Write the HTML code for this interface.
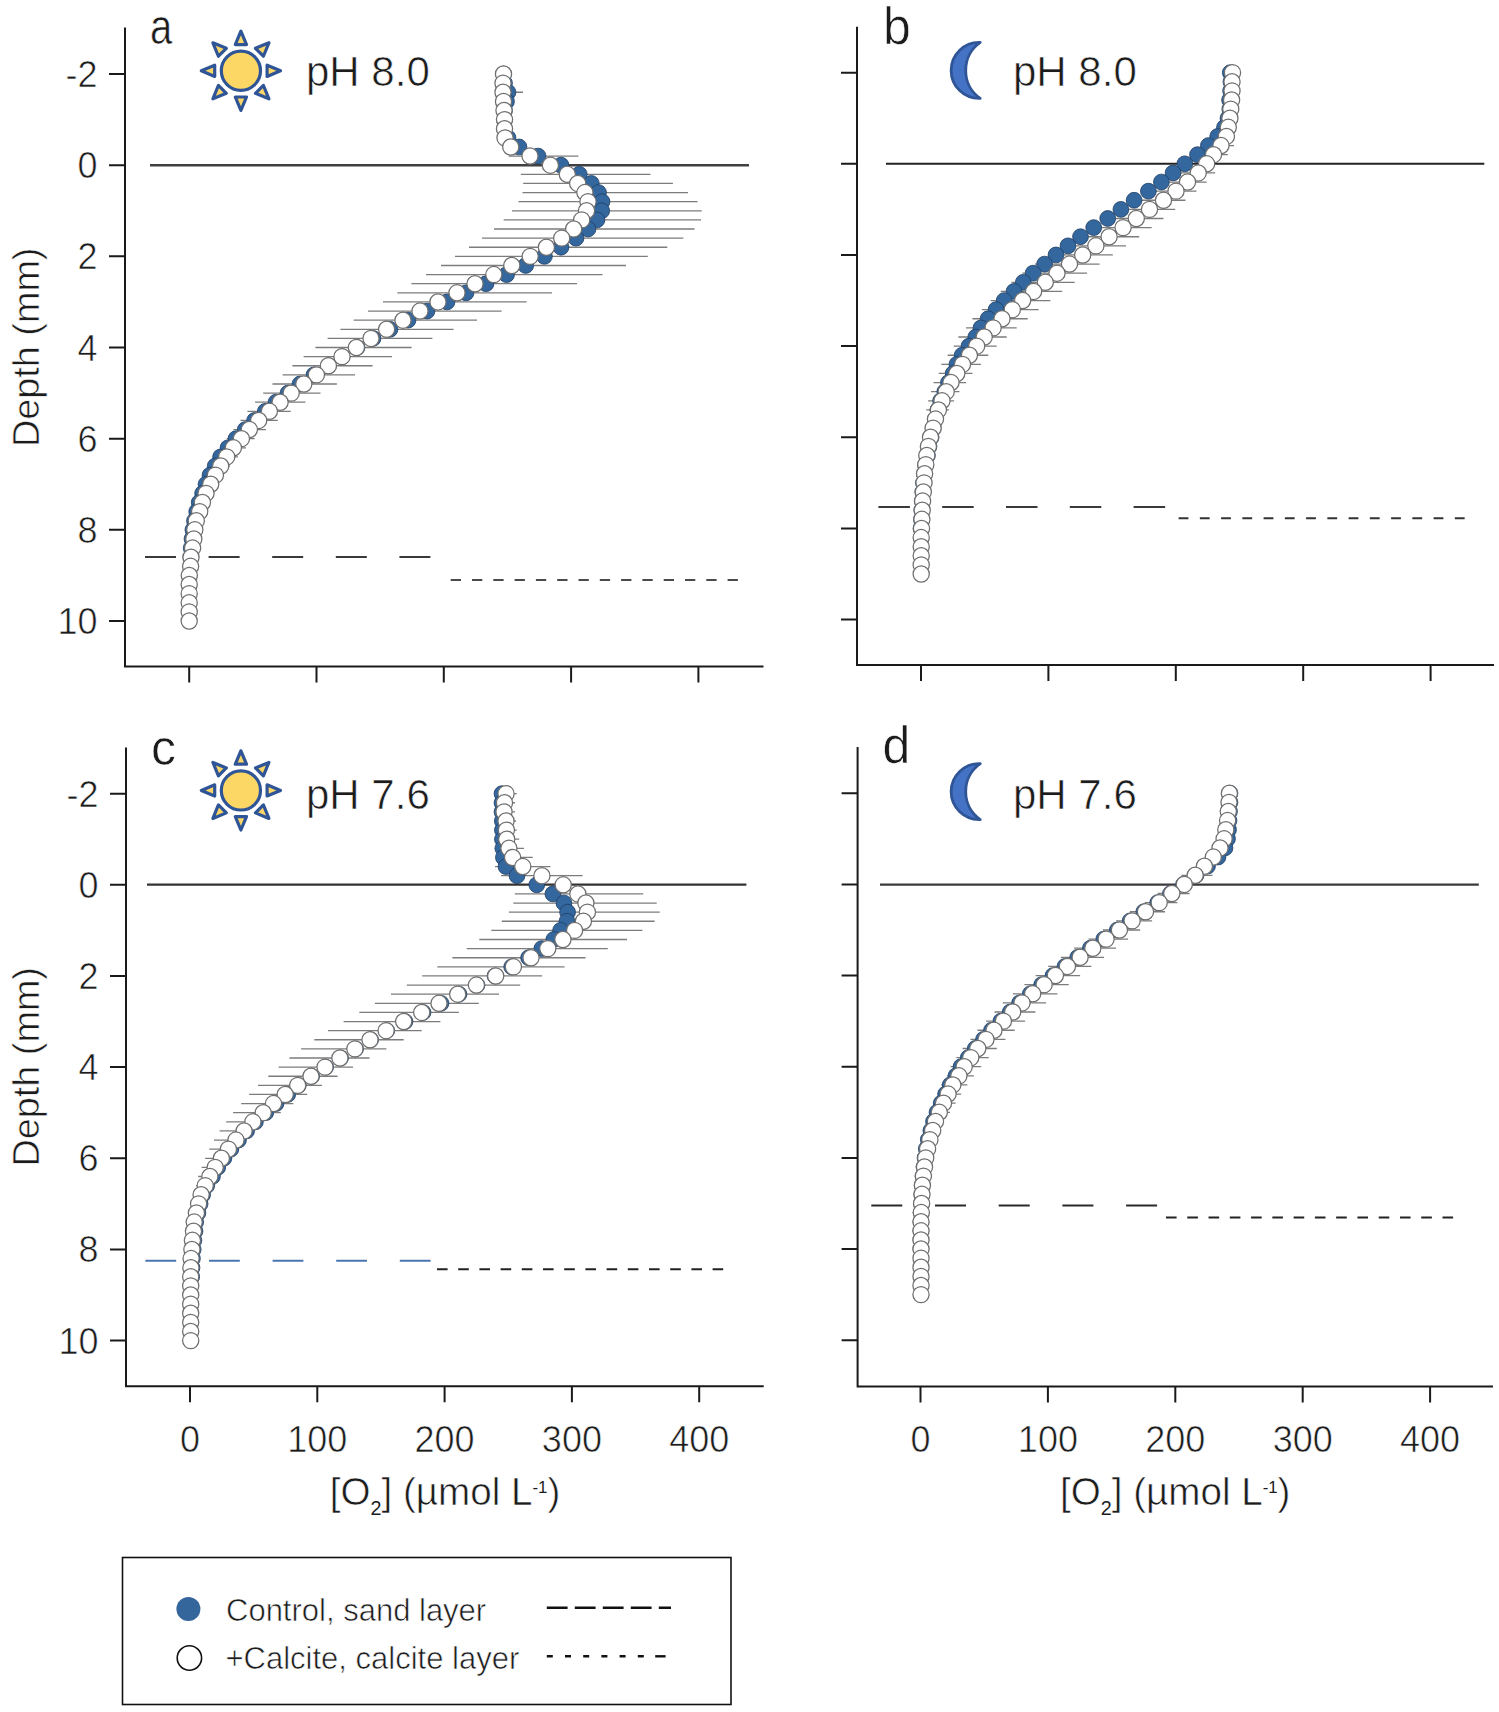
<!DOCTYPE html><html><head><meta charset="utf-8"><style>html,body{margin:0;padding:0;background:#fff}svg{display:block}</style></head><body>
<svg width="1499" height="1712" viewBox="0 0 1499 1712">
<rect width="1499" height="1712" fill="#fff"/>
<path d="M125 27.5V666.6H763.5" stroke="#1a1a1a" stroke-width="2" fill="none"/>
<path d="M109 74.04H125M109 165.2H125M109 256.36H125M109 347.52H125M109 438.68H125M109 529.84H125M109 621H125M189.2 666.6V682.6M316.5 666.6V682.6M443.8 666.6V682.6M571.1 666.6V682.6M698.4 666.6V682.6" stroke="#1a1a1a" stroke-width="2" fill="none"/>
<text x="97.5" y="87.04" text-anchor="end" font-size="36" font-family="Liberation Sans, sans-serif" fill="#1c1c1c" stroke="#fff" stroke-width="0.6">-2</text>
<text x="97.5" y="178.2" text-anchor="end" font-size="36" font-family="Liberation Sans, sans-serif" fill="#1c1c1c" stroke="#fff" stroke-width="0.6">0</text>
<text x="97.5" y="269.36" text-anchor="end" font-size="36" font-family="Liberation Sans, sans-serif" fill="#1c1c1c" stroke="#fff" stroke-width="0.6">2</text>
<text x="97.5" y="360.52" text-anchor="end" font-size="36" font-family="Liberation Sans, sans-serif" fill="#1c1c1c" stroke="#fff" stroke-width="0.6">4</text>
<text x="97.5" y="451.68" text-anchor="end" font-size="36" font-family="Liberation Sans, sans-serif" fill="#1c1c1c" stroke="#fff" stroke-width="0.6">6</text>
<text x="97.5" y="542.84" text-anchor="end" font-size="36" font-family="Liberation Sans, sans-serif" fill="#1c1c1c" stroke="#fff" stroke-width="0.6">8</text>
<text x="97.5" y="634" text-anchor="end" font-size="36" font-family="Liberation Sans, sans-serif" fill="#1c1c1c" stroke="#fff" stroke-width="0.6">10</text>
<path d="M500 92.27H523M508.8 156.08H578.5M520.8 174.32H650.5M523.2 183.43H672.9M522.5 192.55H688M518.4 201.66H697.6M512 210.78H701.7M503.7 219.9H701M494 229.01H694.5M482 238.13H683.3M469 247.24H667.3M455 256.36H647.8M441 265.48H626M426 274.59H602.5M411.4 283.71H577M397.4 292.82H552M383 301.94H526.6M368 311.06H501.6M353.6 320.17H477M340.4 329.29H453.6M327.6 338.4H432.4M315.4 347.52H411.6M303.6 356.64H392M292.4 365.75H372.6M282.6 374.87H355M272.5 383.98H336.9M263.2 393.1H320.5M255.1 402.22H305.4M247.4 411.33H290.8M240.5 420.45H277.8M233.4 429.56H266M226.7 438.68H254.7M221 447.8H246M216 456.91H238M212 466.03H230" stroke="#7c7c7c" stroke-width="1.3" fill="none"/>
<line x1="150" y1="165.3" x2="749" y2="165.3" stroke="#404040" stroke-width="2.4"/>
<circle cx="503.5" cy="74.04" r="7.9" fill="#33679e" stroke="#1f3d63" stroke-width="0.8"/><circle cx="504.5" cy="83.16" r="7.9" fill="#33679e" stroke="#1f3d63" stroke-width="0.8"/><circle cx="508" cy="92.27" r="7.9" fill="#33679e" stroke="#1f3d63" stroke-width="0.8"/><circle cx="506.5" cy="101.39" r="7.9" fill="#33679e" stroke="#1f3d63" stroke-width="0.8"/><circle cx="504.5" cy="110.5" r="7.9" fill="#33679e" stroke="#1f3d63" stroke-width="0.8"/><circle cx="504.5" cy="119.62" r="7.9" fill="#33679e" stroke="#1f3d63" stroke-width="0.8"/><circle cx="504.5" cy="128.74" r="7.9" fill="#33679e" stroke="#1f3d63" stroke-width="0.8"/><circle cx="508" cy="137.85" r="7.9" fill="#33679e" stroke="#1f3d63" stroke-width="0.8"/><circle cx="519" cy="146.97" r="7.9" fill="#33679e" stroke="#1f3d63" stroke-width="0.8"/><circle cx="538" cy="156.08" r="7.9" fill="#33679e" stroke="#1f3d63" stroke-width="0.8"/><circle cx="561" cy="165.2" r="7.9" fill="#33679e" stroke="#1f3d63" stroke-width="0.8"/><circle cx="579.3" cy="174.32" r="7.9" fill="#33679e" stroke="#1f3d63" stroke-width="0.8"/><circle cx="591.3" cy="183.43" r="7.9" fill="#33679e" stroke="#1f3d63" stroke-width="0.8"/><circle cx="598.5" cy="192.55" r="7.9" fill="#33679e" stroke="#1f3d63" stroke-width="0.8"/><circle cx="602" cy="201.66" r="7.9" fill="#33679e" stroke="#1f3d63" stroke-width="0.8"/><circle cx="601.7" cy="210.78" r="7.9" fill="#33679e" stroke="#1f3d63" stroke-width="0.8"/><circle cx="596.9" cy="219.9" r="7.9" fill="#33679e" stroke="#1f3d63" stroke-width="0.8"/><circle cx="588" cy="229.01" r="7.9" fill="#33679e" stroke="#1f3d63" stroke-width="0.8"/><circle cx="576" cy="238.13" r="7.9" fill="#33679e" stroke="#1f3d63" stroke-width="0.8"/><circle cx="561" cy="247.24" r="7.9" fill="#33679e" stroke="#1f3d63" stroke-width="0.8"/><circle cx="544.4" cy="256.36" r="7.9" fill="#33679e" stroke="#1f3d63" stroke-width="0.8"/><circle cx="525.7" cy="265.48" r="7.9" fill="#33679e" stroke="#1f3d63" stroke-width="0.8"/><circle cx="506.6" cy="274.59" r="7.9" fill="#33679e" stroke="#1f3d63" stroke-width="0.8"/><circle cx="486" cy="283.71" r="7.9" fill="#33679e" stroke="#1f3d63" stroke-width="0.8"/><circle cx="466" cy="292.82" r="7.9" fill="#33679e" stroke="#1f3d63" stroke-width="0.8"/><circle cx="447" cy="301.94" r="7.9" fill="#33679e" stroke="#1f3d63" stroke-width="0.8"/><circle cx="427" cy="311.06" r="7.9" fill="#33679e" stroke="#1f3d63" stroke-width="0.8"/><circle cx="408" cy="320.17" r="7.9" fill="#33679e" stroke="#1f3d63" stroke-width="0.8"/><circle cx="390" cy="329.29" r="7.9" fill="#33679e" stroke="#1f3d63" stroke-width="0.8"/><circle cx="373" cy="338.4" r="7.9" fill="#33679e" stroke="#1f3d63" stroke-width="0.8"/><circle cx="357" cy="347.52" r="7.9" fill="#33679e" stroke="#1f3d63" stroke-width="0.8"/><circle cx="342" cy="356.64" r="7.9" fill="#33679e" stroke="#1f3d63" stroke-width="0.8"/><circle cx="328.5" cy="365.75" r="7.9" fill="#33679e" stroke="#1f3d63" stroke-width="0.8"/><circle cx="314" cy="374.87" r="7.9" fill="#33679e" stroke="#1f3d63" stroke-width="0.8"/><circle cx="300" cy="383.98" r="7.9" fill="#33679e" stroke="#1f3d63" stroke-width="0.8"/><circle cx="288" cy="393.1" r="7.9" fill="#33679e" stroke="#1f3d63" stroke-width="0.8"/><circle cx="276" cy="402.22" r="7.9" fill="#33679e" stroke="#1f3d63" stroke-width="0.8"/><circle cx="265.3" cy="411.33" r="7.9" fill="#33679e" stroke="#1f3d63" stroke-width="0.8"/><circle cx="254.6" cy="420.45" r="7.9" fill="#33679e" stroke="#1f3d63" stroke-width="0.8"/><circle cx="245.3" cy="429.56" r="7.9" fill="#33679e" stroke="#1f3d63" stroke-width="0.8"/><circle cx="236" cy="438.68" r="7.9" fill="#33679e" stroke="#1f3d63" stroke-width="0.8"/><circle cx="228" cy="447.8" r="7.9" fill="#33679e" stroke="#1f3d63" stroke-width="0.8"/><circle cx="220.6" cy="456.91" r="7.9" fill="#33679e" stroke="#1f3d63" stroke-width="0.8"/><circle cx="215.2" cy="466.03" r="7.9" fill="#33679e" stroke="#1f3d63" stroke-width="0.8"/><circle cx="210" cy="475.14" r="7.9" fill="#33679e" stroke="#1f3d63" stroke-width="0.8"/><circle cx="206" cy="484.26" r="7.9" fill="#33679e" stroke="#1f3d63" stroke-width="0.8"/><circle cx="202.6" cy="493.38" r="7.9" fill="#33679e" stroke="#1f3d63" stroke-width="0.8"/><circle cx="199.2" cy="502.49" r="7.9" fill="#33679e" stroke="#1f3d63" stroke-width="0.8"/><circle cx="196.7" cy="511.61" r="7.9" fill="#33679e" stroke="#1f3d63" stroke-width="0.8"/><circle cx="194.5" cy="520.72" r="7.9" fill="#33679e" stroke="#1f3d63" stroke-width="0.8"/><circle cx="192.9" cy="529.84" r="7.9" fill="#33679e" stroke="#1f3d63" stroke-width="0.8"/><circle cx="192" cy="538.96" r="7.9" fill="#33679e" stroke="#1f3d63" stroke-width="0.8"/><circle cx="191.2" cy="548.07" r="7.9" fill="#33679e" stroke="#1f3d63" stroke-width="0.8"/><circle cx="190.8" cy="557.19" r="7.9" fill="#33679e" stroke="#1f3d63" stroke-width="0.8"/><circle cx="503.5" cy="74.04" r="8.1" fill="#fff" stroke="#6e6e6e" stroke-width="1.25"/><circle cx="503" cy="83.16" r="8.1" fill="#fff" stroke="#6e6e6e" stroke-width="1.25"/><circle cx="503" cy="92.27" r="8.1" fill="#fff" stroke="#6e6e6e" stroke-width="1.25"/><circle cx="503.5" cy="101.39" r="8.1" fill="#fff" stroke="#6e6e6e" stroke-width="1.25"/><circle cx="504" cy="110.5" r="8.1" fill="#fff" stroke="#6e6e6e" stroke-width="1.25"/><circle cx="504.5" cy="119.62" r="8.1" fill="#fff" stroke="#6e6e6e" stroke-width="1.25"/><circle cx="504.5" cy="128.74" r="8.1" fill="#fff" stroke="#6e6e6e" stroke-width="1.25"/><circle cx="505" cy="137.85" r="8.1" fill="#fff" stroke="#6e6e6e" stroke-width="1.25"/><circle cx="510.75" cy="146.97" r="8.1" fill="#fff" stroke="#6e6e6e" stroke-width="1.25"/><circle cx="530" cy="156.08" r="8.1" fill="#fff" stroke="#6e6e6e" stroke-width="1.25"/><circle cx="550.4" cy="165.2" r="8.1" fill="#fff" stroke="#6e6e6e" stroke-width="1.25"/><circle cx="567.3" cy="174.32" r="8.1" fill="#fff" stroke="#6e6e6e" stroke-width="1.25"/><circle cx="577.7" cy="183.43" r="8.1" fill="#fff" stroke="#6e6e6e" stroke-width="1.25"/><circle cx="584.9" cy="192.55" r="8.1" fill="#fff" stroke="#6e6e6e" stroke-width="1.25"/><circle cx="588" cy="201.66" r="8.1" fill="#fff" stroke="#6e6e6e" stroke-width="1.25"/><circle cx="586.5" cy="210.78" r="8.1" fill="#fff" stroke="#6e6e6e" stroke-width="1.25"/><circle cx="581.7" cy="219.9" r="8.1" fill="#fff" stroke="#6e6e6e" stroke-width="1.25"/><circle cx="573.7" cy="229.01" r="8.1" fill="#fff" stroke="#6e6e6e" stroke-width="1.25"/><circle cx="561.7" cy="238.13" r="8.1" fill="#fff" stroke="#6e6e6e" stroke-width="1.25"/><circle cx="546.4" cy="247.24" r="8.1" fill="#fff" stroke="#6e6e6e" stroke-width="1.25"/><circle cx="530.2" cy="256.36" r="8.1" fill="#fff" stroke="#6e6e6e" stroke-width="1.25"/><circle cx="511.8" cy="265.48" r="8.1" fill="#fff" stroke="#6e6e6e" stroke-width="1.25"/><circle cx="493.8" cy="274.59" r="8.1" fill="#fff" stroke="#6e6e6e" stroke-width="1.25"/><circle cx="475" cy="283.71" r="8.1" fill="#fff" stroke="#6e6e6e" stroke-width="1.25"/><circle cx="457" cy="292.82" r="8.1" fill="#fff" stroke="#6e6e6e" stroke-width="1.25"/><circle cx="438" cy="301.94" r="8.1" fill="#fff" stroke="#6e6e6e" stroke-width="1.25"/><circle cx="420" cy="311.06" r="8.1" fill="#fff" stroke="#6e6e6e" stroke-width="1.25"/><circle cx="403" cy="320.17" r="8.1" fill="#fff" stroke="#6e6e6e" stroke-width="1.25"/><circle cx="386.6" cy="329.29" r="8.1" fill="#fff" stroke="#6e6e6e" stroke-width="1.25"/><circle cx="371" cy="338.4" r="8.1" fill="#fff" stroke="#6e6e6e" stroke-width="1.25"/><circle cx="356.4" cy="347.52" r="8.1" fill="#fff" stroke="#6e6e6e" stroke-width="1.25"/><circle cx="342" cy="356.64" r="8.1" fill="#fff" stroke="#6e6e6e" stroke-width="1.25"/><circle cx="328.4" cy="365.75" r="8.1" fill="#fff" stroke="#6e6e6e" stroke-width="1.25"/><circle cx="316.4" cy="374.87" r="8.1" fill="#fff" stroke="#6e6e6e" stroke-width="1.25"/><circle cx="303.8" cy="383.98" r="8.1" fill="#fff" stroke="#6e6e6e" stroke-width="1.25"/><circle cx="291.2" cy="393.1" r="8.1" fill="#fff" stroke="#6e6e6e" stroke-width="1.25"/><circle cx="280.1" cy="402.22" r="8.1" fill="#fff" stroke="#6e6e6e" stroke-width="1.25"/><circle cx="269.4" cy="411.33" r="8.1" fill="#fff" stroke="#6e6e6e" stroke-width="1.25"/><circle cx="258.7" cy="420.45" r="8.1" fill="#fff" stroke="#6e6e6e" stroke-width="1.25"/><circle cx="249.4" cy="429.56" r="8.1" fill="#fff" stroke="#6e6e6e" stroke-width="1.25"/><circle cx="241.4" cy="438.68" r="8.1" fill="#fff" stroke="#6e6e6e" stroke-width="1.25"/><circle cx="233.4" cy="447.8" r="8.1" fill="#fff" stroke="#6e6e6e" stroke-width="1.25"/><circle cx="226.7" cy="456.91" r="8.1" fill="#fff" stroke="#6e6e6e" stroke-width="1.25"/><circle cx="220.7" cy="466.03" r="8.1" fill="#fff" stroke="#6e6e6e" stroke-width="1.25"/><circle cx="215.4" cy="475.14" r="8.1" fill="#fff" stroke="#6e6e6e" stroke-width="1.25"/><circle cx="210.7" cy="484.26" r="8.1" fill="#fff" stroke="#6e6e6e" stroke-width="1.25"/><circle cx="206" cy="493.38" r="8.1" fill="#fff" stroke="#6e6e6e" stroke-width="1.25"/><circle cx="202.4" cy="502.49" r="8.1" fill="#fff" stroke="#6e6e6e" stroke-width="1.25"/><circle cx="199.7" cy="511.61" r="8.1" fill="#fff" stroke="#6e6e6e" stroke-width="1.25"/><circle cx="196.3" cy="520.72" r="8.1" fill="#fff" stroke="#6e6e6e" stroke-width="1.25"/><circle cx="194.8" cy="529.84" r="8.1" fill="#fff" stroke="#6e6e6e" stroke-width="1.25"/><circle cx="193.8" cy="538.96" r="8.1" fill="#fff" stroke="#6e6e6e" stroke-width="1.25"/><circle cx="192.6" cy="548.07" r="8.1" fill="#fff" stroke="#6e6e6e" stroke-width="1.25"/><circle cx="191" cy="557.19" r="8.1" fill="#fff" stroke="#6e6e6e" stroke-width="1.25"/><circle cx="190.6" cy="566.3" r="8.1" fill="#fff" stroke="#6e6e6e" stroke-width="1.25"/><circle cx="189.3" cy="575.42" r="8.1" fill="#fff" stroke="#6e6e6e" stroke-width="1.25"/><circle cx="189.2" cy="584.54" r="8.1" fill="#fff" stroke="#6e6e6e" stroke-width="1.25"/><circle cx="189.2" cy="593.65" r="8.1" fill="#fff" stroke="#6e6e6e" stroke-width="1.25"/><circle cx="189.2" cy="602.77" r="8.1" fill="#fff" stroke="#6e6e6e" stroke-width="1.25"/><circle cx="189.2" cy="611.88" r="8.1" fill="#fff" stroke="#6e6e6e" stroke-width="1.25"/><circle cx="189.2" cy="621" r="8.1" fill="#fff" stroke="#6e6e6e" stroke-width="1.25"/>
<line x1="145" y1="557.1" x2="432" y2="557.1" stroke="#3a3a3a" stroke-width="2" stroke-dasharray="31 32.6"/>
<line x1="450.7" y1="580" x2="740" y2="580" stroke="#4a4a4a" stroke-width="2" stroke-dasharray="10.3 11"/>
<path d="M857 26.7V665.1H1494" stroke="#1a1a1a" stroke-width="2" fill="none"/>
<path d="M841 72.64H857M841 163.8H857M841 254.96H857M841 346.12H857M841 437.28H857M841 528.44H857M841 619.6H857M921 665.1V681.1M1048.4 665.1V681.1M1175.8 665.1V681.1M1303.2 665.1V681.1M1430.6 665.1V681.1" stroke="#1a1a1a" stroke-width="2" fill="none"/>
<path d="M1206.05 145.57H1234M1197.06 154.68H1227.8M1178.65 172.92H1215.2M1165.65 182.03H1206.5M1152.42 191.15H1196.5M1138.2 200.26H1185.5M1119.94 209.38H1175.2M1105.13 218.5H1163.4M1090.21 227.61H1151.7M1074.48 236.73H1139.2M1061.29 245.84H1126M1048.09 254.96H1112.8M1034.88 264.08H1099.6M1022.38 273.19H1087.1M1011.49 282.31H1074.7M1000.71 291.42H1062.2M990.63 300.54H1050.4M981.94 309.66H1038.7M972.45 318.77H1027.7M965.96 327.89H1016.7M958.33 337H1006.7M953.7 346.12H996.7M947.66 355.24H988.3M941.34 364.35H980.9M938.75 373.47H972.5M933.52 382.58H966.2M931.02 391.7H959.4M928.09 400.82H954.1M926.32 409.93H948.9" stroke="#7c7c7c" stroke-width="1.3" fill="none"/>
<line x1="886" y1="163.7" x2="1484.3" y2="163.7" stroke="#222" stroke-width="2"/>
<circle cx="1230.3" cy="72.64" r="7.9" fill="#33679e" stroke="#1f3d63" stroke-width="0.8"/><circle cx="1230.9" cy="81.76" r="7.9" fill="#33679e" stroke="#1f3d63" stroke-width="0.8"/><circle cx="1230.6" cy="90.87" r="7.9" fill="#33679e" stroke="#1f3d63" stroke-width="0.8"/><circle cx="1229.6" cy="99.99" r="7.9" fill="#33679e" stroke="#1f3d63" stroke-width="0.8"/><circle cx="1229.8" cy="109.1" r="7.9" fill="#33679e" stroke="#1f3d63" stroke-width="0.8"/><circle cx="1228" cy="118.22" r="7.9" fill="#33679e" stroke="#1f3d63" stroke-width="0.8"/><circle cx="1224.5" cy="127.34" r="7.9" fill="#33679e" stroke="#1f3d63" stroke-width="0.8"/><circle cx="1217.7" cy="136.45" r="7.9" fill="#33679e" stroke="#1f3d63" stroke-width="0.8"/><circle cx="1208.4" cy="145.57" r="7.9" fill="#33679e" stroke="#1f3d63" stroke-width="0.8"/><circle cx="1197.5" cy="154.68" r="7.9" fill="#33679e" stroke="#1f3d63" stroke-width="0.8"/><circle cx="1184.8" cy="163.8" r="7.9" fill="#33679e" stroke="#1f3d63" stroke-width="0.8"/><circle cx="1173.1" cy="172.92" r="7.9" fill="#33679e" stroke="#1f3d63" stroke-width="0.8"/><circle cx="1161.4" cy="182.03" r="7.9" fill="#33679e" stroke="#1f3d63" stroke-width="0.8"/><circle cx="1148.4" cy="191.15" r="7.9" fill="#33679e" stroke="#1f3d63" stroke-width="0.8"/><circle cx="1134.1" cy="200.26" r="7.9" fill="#33679e" stroke="#1f3d63" stroke-width="0.8"/><circle cx="1120.9" cy="209.38" r="7.9" fill="#33679e" stroke="#1f3d63" stroke-width="0.8"/><circle cx="1107.7" cy="218.5" r="7.9" fill="#33679e" stroke="#1f3d63" stroke-width="0.8"/><circle cx="1093.7" cy="227.61" r="7.9" fill="#33679e" stroke="#1f3d63" stroke-width="0.8"/><circle cx="1080.5" cy="236.73" r="7.9" fill="#33679e" stroke="#1f3d63" stroke-width="0.8"/><circle cx="1068" cy="245.84" r="7.9" fill="#33679e" stroke="#1f3d63" stroke-width="0.8"/><circle cx="1056" cy="254.96" r="7.9" fill="#33679e" stroke="#1f3d63" stroke-width="0.8"/><circle cx="1044.6" cy="264.08" r="7.9" fill="#33679e" stroke="#1f3d63" stroke-width="0.8"/><circle cx="1033.1" cy="273.19" r="7.9" fill="#33679e" stroke="#1f3d63" stroke-width="0.8"/><circle cx="1023.3" cy="282.31" r="7.9" fill="#33679e" stroke="#1f3d63" stroke-width="0.8"/><circle cx="1014" cy="291.42" r="7.9" fill="#33679e" stroke="#1f3d63" stroke-width="0.8"/><circle cx="1004.2" cy="300.54" r="7.9" fill="#33679e" stroke="#1f3d63" stroke-width="0.8"/><circle cx="996.1" cy="309.66" r="7.9" fill="#33679e" stroke="#1f3d63" stroke-width="0.8"/><circle cx="988.1" cy="318.77" r="7.9" fill="#33679e" stroke="#1f3d63" stroke-width="0.8"/><circle cx="981" cy="327.89" r="7.9" fill="#33679e" stroke="#1f3d63" stroke-width="0.8"/><circle cx="975.8" cy="337" r="7.9" fill="#33679e" stroke="#1f3d63" stroke-width="0.8"/><circle cx="969" cy="346.12" r="7.9" fill="#33679e" stroke="#1f3d63" stroke-width="0.8"/><circle cx="962.1" cy="355.24" r="7.9" fill="#33679e" stroke="#1f3d63" stroke-width="0.8"/><circle cx="956.9" cy="364.35" r="7.9" fill="#33679e" stroke="#1f3d63" stroke-width="0.8"/><circle cx="953.2" cy="373.47" r="7.9" fill="#33679e" stroke="#1f3d63" stroke-width="0.8"/><circle cx="948.5" cy="382.58" r="7.9" fill="#33679e" stroke="#1f3d63" stroke-width="0.8"/><circle cx="944.8" cy="391.7" r="7.9" fill="#33679e" stroke="#1f3d63" stroke-width="0.8"/><circle cx="940.6" cy="400.82" r="7.9" fill="#33679e" stroke="#1f3d63" stroke-width="0.8"/><circle cx="937.9" cy="409.93" r="7.9" fill="#33679e" stroke="#1f3d63" stroke-width="0.8"/><circle cx="935.3" cy="419.05" r="7.9" fill="#33679e" stroke="#1f3d63" stroke-width="0.8"/><circle cx="933.2" cy="428.16" r="7.9" fill="#33679e" stroke="#1f3d63" stroke-width="0.8"/><circle cx="931.1" cy="437.28" r="7.9" fill="#33679e" stroke="#1f3d63" stroke-width="0.8"/><circle cx="929" cy="446.4" r="7.9" fill="#33679e" stroke="#1f3d63" stroke-width="0.8"/><circle cx="927.4" cy="455.51" r="7.9" fill="#33679e" stroke="#1f3d63" stroke-width="0.8"/><circle cx="925.5" cy="464.63" r="7.9" fill="#33679e" stroke="#1f3d63" stroke-width="0.8"/><circle cx="924.3" cy="473.74" r="7.9" fill="#33679e" stroke="#1f3d63" stroke-width="0.8"/><circle cx="923.5" cy="482.86" r="7.9" fill="#33679e" stroke="#1f3d63" stroke-width="0.8"/><circle cx="922.8" cy="491.98" r="7.9" fill="#33679e" stroke="#1f3d63" stroke-width="0.8"/><circle cx="922.2" cy="501.09" r="7.9" fill="#33679e" stroke="#1f3d63" stroke-width="0.8"/><circle cx="921.8" cy="510.21" r="7.9" fill="#33679e" stroke="#1f3d63" stroke-width="0.8"/><circle cx="921.4" cy="519.32" r="7.9" fill="#33679e" stroke="#1f3d63" stroke-width="0.8"/><circle cx="921" cy="528.44" r="7.9" fill="#33679e" stroke="#1f3d63" stroke-width="0.8"/><circle cx="1232.5" cy="72.64" r="8.1" fill="#fff" stroke="#6e6e6e" stroke-width="1.25"/><circle cx="1232" cy="81.76" r="8.1" fill="#fff" stroke="#6e6e6e" stroke-width="1.25"/><circle cx="1232" cy="90.87" r="8.1" fill="#fff" stroke="#6e6e6e" stroke-width="1.25"/><circle cx="1231.6" cy="99.99" r="8.1" fill="#fff" stroke="#6e6e6e" stroke-width="1.25"/><circle cx="1230.8" cy="109.1" r="8.1" fill="#fff" stroke="#6e6e6e" stroke-width="1.25"/><circle cx="1229.9" cy="118.22" r="8.1" fill="#fff" stroke="#6e6e6e" stroke-width="1.25"/><circle cx="1228.3" cy="127.34" r="8.1" fill="#fff" stroke="#6e6e6e" stroke-width="1.25"/><circle cx="1226.4" cy="136.45" r="8.1" fill="#fff" stroke="#6e6e6e" stroke-width="1.25"/><circle cx="1221" cy="145.57" r="8.1" fill="#fff" stroke="#6e6e6e" stroke-width="1.25"/><circle cx="1213.5" cy="154.68" r="8.1" fill="#fff" stroke="#6e6e6e" stroke-width="1.25"/><circle cx="1206.6" cy="163.8" r="8.1" fill="#fff" stroke="#6e6e6e" stroke-width="1.25"/><circle cx="1198.2" cy="172.92" r="8.1" fill="#fff" stroke="#6e6e6e" stroke-width="1.25"/><circle cx="1187.5" cy="182.03" r="8.1" fill="#fff" stroke="#6e6e6e" stroke-width="1.25"/><circle cx="1176" cy="191.15" r="8.1" fill="#fff" stroke="#6e6e6e" stroke-width="1.25"/><circle cx="1163.5" cy="200.26" r="8.1" fill="#fff" stroke="#6e6e6e" stroke-width="1.25"/><circle cx="1149.5" cy="209.38" r="8.1" fill="#fff" stroke="#6e6e6e" stroke-width="1.25"/><circle cx="1136.3" cy="218.5" r="8.1" fill="#fff" stroke="#6e6e6e" stroke-width="1.25"/><circle cx="1123.1" cy="227.61" r="8.1" fill="#fff" stroke="#6e6e6e" stroke-width="1.25"/><circle cx="1109.1" cy="236.73" r="8.1" fill="#fff" stroke="#6e6e6e" stroke-width="1.25"/><circle cx="1095.9" cy="245.84" r="8.1" fill="#fff" stroke="#6e6e6e" stroke-width="1.25"/><circle cx="1082.7" cy="254.96" r="8.1" fill="#fff" stroke="#6e6e6e" stroke-width="1.25"/><circle cx="1069.5" cy="264.08" r="8.1" fill="#fff" stroke="#6e6e6e" stroke-width="1.25"/><circle cx="1057" cy="273.19" r="8.1" fill="#fff" stroke="#6e6e6e" stroke-width="1.25"/><circle cx="1045.3" cy="282.31" r="8.1" fill="#fff" stroke="#6e6e6e" stroke-width="1.25"/><circle cx="1033.6" cy="291.42" r="8.1" fill="#fff" stroke="#6e6e6e" stroke-width="1.25"/><circle cx="1022.6" cy="300.54" r="8.1" fill="#fff" stroke="#6e6e6e" stroke-width="1.25"/><circle cx="1012.3" cy="309.66" r="8.1" fill="#fff" stroke="#6e6e6e" stroke-width="1.25"/><circle cx="1002" cy="318.77" r="8.1" fill="#fff" stroke="#6e6e6e" stroke-width="1.25"/><circle cx="993.1" cy="327.89" r="8.1" fill="#fff" stroke="#6e6e6e" stroke-width="1.25"/><circle cx="984.2" cy="337" r="8.1" fill="#fff" stroke="#6e6e6e" stroke-width="1.25"/><circle cx="976.7" cy="346.12" r="8.1" fill="#fff" stroke="#6e6e6e" stroke-width="1.25"/><circle cx="969.4" cy="355.24" r="8.1" fill="#fff" stroke="#6e6e6e" stroke-width="1.25"/><circle cx="962.5" cy="364.35" r="8.1" fill="#fff" stroke="#6e6e6e" stroke-width="1.25"/><circle cx="956.8" cy="373.47" r="8.1" fill="#fff" stroke="#6e6e6e" stroke-width="1.25"/><circle cx="951" cy="382.58" r="8.1" fill="#fff" stroke="#6e6e6e" stroke-width="1.25"/><circle cx="946.2" cy="391.7" r="8.1" fill="#fff" stroke="#6e6e6e" stroke-width="1.25"/><circle cx="942" cy="400.82" r="8.1" fill="#fff" stroke="#6e6e6e" stroke-width="1.25"/><circle cx="938.4" cy="409.93" r="8.1" fill="#fff" stroke="#6e6e6e" stroke-width="1.25"/><circle cx="935.5" cy="419.05" r="8.1" fill="#fff" stroke="#6e6e6e" stroke-width="1.25"/><circle cx="933.1" cy="428.16" r="8.1" fill="#fff" stroke="#6e6e6e" stroke-width="1.25"/><circle cx="930.5" cy="437.28" r="8.1" fill="#fff" stroke="#6e6e6e" stroke-width="1.25"/><circle cx="928.4" cy="446.4" r="8.1" fill="#fff" stroke="#6e6e6e" stroke-width="1.25"/><circle cx="926.8" cy="455.51" r="8.1" fill="#fff" stroke="#6e6e6e" stroke-width="1.25"/><circle cx="925.8" cy="464.63" r="8.1" fill="#fff" stroke="#6e6e6e" stroke-width="1.25"/><circle cx="924.6" cy="473.74" r="8.1" fill="#fff" stroke="#6e6e6e" stroke-width="1.25"/><circle cx="924" cy="482.86" r="8.1" fill="#fff" stroke="#6e6e6e" stroke-width="1.25"/><circle cx="923.3" cy="491.98" r="8.1" fill="#fff" stroke="#6e6e6e" stroke-width="1.25"/><circle cx="922.6" cy="501.09" r="8.1" fill="#fff" stroke="#6e6e6e" stroke-width="1.25"/><circle cx="922.2" cy="510.21" r="8.1" fill="#fff" stroke="#6e6e6e" stroke-width="1.25"/><circle cx="921.9" cy="519.32" r="8.1" fill="#fff" stroke="#6e6e6e" stroke-width="1.25"/><circle cx="921.5" cy="528.44" r="8.1" fill="#fff" stroke="#6e6e6e" stroke-width="1.25"/><circle cx="921.2" cy="537.56" r="8.1" fill="#fff" stroke="#6e6e6e" stroke-width="1.25"/><circle cx="921.2" cy="546.67" r="8.1" fill="#fff" stroke="#6e6e6e" stroke-width="1.25"/><circle cx="921.2" cy="555.79" r="8.1" fill="#fff" stroke="#6e6e6e" stroke-width="1.25"/><circle cx="921.2" cy="564.9" r="8.1" fill="#fff" stroke="#6e6e6e" stroke-width="1.25"/><circle cx="921.2" cy="574.02" r="8.1" fill="#fff" stroke="#6e6e6e" stroke-width="1.25"/>
<line x1="878.4" y1="507.1" x2="1166" y2="507.1" stroke="#3a3a3a" stroke-width="2" stroke-dasharray="31.5 32.3"/>
<line x1="1178.6" y1="518.2" x2="1468" y2="518.2" stroke="#333" stroke-width="2" stroke-dasharray="9.8 11.45"/>
<path d="M126 747.4V1386.2H763.7" stroke="#1a1a1a" stroke-width="2" fill="none"/>
<path d="M110 793.64H126M110 884.8H126M110 975.96H126M110 1067.12H126M110 1158.28H126M110 1249.44H126M110 1340.6H126M190 1386.2V1402.2M317.3 1386.2V1402.2M444.6 1386.2V1402.2M571.9 1386.2V1402.2M699.2 1386.2V1402.2" stroke="#1a1a1a" stroke-width="2" fill="none"/>
<text x="98.5" y="806.64" text-anchor="end" font-size="36" font-family="Liberation Sans, sans-serif" fill="#1c1c1c" stroke="#fff" stroke-width="0.6">-2</text>
<text x="98.5" y="897.8" text-anchor="end" font-size="36" font-family="Liberation Sans, sans-serif" fill="#1c1c1c" stroke="#fff" stroke-width="0.6">0</text>
<text x="98.5" y="988.96" text-anchor="end" font-size="36" font-family="Liberation Sans, sans-serif" fill="#1c1c1c" stroke="#fff" stroke-width="0.6">2</text>
<text x="98.5" y="1080.12" text-anchor="end" font-size="36" font-family="Liberation Sans, sans-serif" fill="#1c1c1c" stroke="#fff" stroke-width="0.6">4</text>
<text x="98.5" y="1171.28" text-anchor="end" font-size="36" font-family="Liberation Sans, sans-serif" fill="#1c1c1c" stroke="#fff" stroke-width="0.6">6</text>
<text x="98.5" y="1262.44" text-anchor="end" font-size="36" font-family="Liberation Sans, sans-serif" fill="#1c1c1c" stroke="#fff" stroke-width="0.6">8</text>
<text x="98.5" y="1353.6" text-anchor="end" font-size="36" font-family="Liberation Sans, sans-serif" fill="#1c1c1c" stroke="#fff" stroke-width="0.6">10</text>
<text x="190" y="1451.8" text-anchor="middle" font-size="36" font-family="Liberation Sans, sans-serif" fill="#1c1c1c" stroke="#fff" stroke-width="0.6">0</text>
<text x="317.3" y="1451.8" text-anchor="middle" font-size="36" font-family="Liberation Sans, sans-serif" fill="#1c1c1c" stroke="#fff" stroke-width="0.6">100</text>
<text x="444.6" y="1451.8" text-anchor="middle" font-size="36" font-family="Liberation Sans, sans-serif" fill="#1c1c1c" stroke="#fff" stroke-width="0.6">200</text>
<text x="571.9" y="1451.8" text-anchor="middle" font-size="36" font-family="Liberation Sans, sans-serif" fill="#1c1c1c" stroke="#fff" stroke-width="0.6">300</text>
<text x="699.2" y="1451.8" text-anchor="middle" font-size="36" font-family="Liberation Sans, sans-serif" fill="#1c1c1c" stroke="#fff" stroke-width="0.6">400</text>
<path d="M495 793.64H516.7M495 802.76H515M495 811.87H515M497 820.99H516M497 830.1H516.7M497 839.22H519.2M497 848.34H524M497 857.45H532.8M495 866.57H550.4M501 875.68H582.7M514.8 893.92H643.2M513.3 903.03H656.7M508.9 912.15H659.8M501.8 921.26H654.6M491.3 930.38H642.4M479.3 939.5H627M466.8 948.61H607.8M452.4 957.73H585.5M437.3 966.84H564.6M422.2 975.96H542.2M406.8 985.08H520.2M391 994.19H499M374.9 1003.31H478.8M359.3 1012.42H458.9M343.6 1021.54H440.4M328 1030.66H421.7M314.3 1039.77H403.7M301.1 1048.89H386.4M289.4 1058H369.5M278.6 1067.12H353M268.3 1076.24H337.5M258 1085.35H321.9M249.2 1094.47H307.2M241.2 1103.58H293.3M233.1 1112.7H280.8M226.2 1121.82H259.9M219.6 1130.93H251.1M214 1140.05H243M209.3 1149.16H235.4M205.2 1158.28H228.4M201.6 1167.4H222.2M198.2 1176.51H216.9M196.1 1185.63H212.2" stroke="#7c7c7c" stroke-width="1.3" fill="none"/>
<line x1="147" y1="884.7" x2="746.4" y2="884.7" stroke="#333" stroke-width="2.2"/>
<circle cx="502" cy="793.64" r="7.9" fill="#33679e" stroke="#1f3d63" stroke-width="0.8"/><circle cx="502" cy="802.76" r="7.9" fill="#33679e" stroke="#1f3d63" stroke-width="0.8"/><circle cx="502" cy="811.87" r="7.9" fill="#33679e" stroke="#1f3d63" stroke-width="0.8"/><circle cx="502.3" cy="820.99" r="7.9" fill="#33679e" stroke="#1f3d63" stroke-width="0.8"/><circle cx="502.4" cy="830.1" r="7.9" fill="#33679e" stroke="#1f3d63" stroke-width="0.8"/><circle cx="502.4" cy="839.22" r="7.9" fill="#33679e" stroke="#1f3d63" stroke-width="0.8"/><circle cx="502.8" cy="848.34" r="7.9" fill="#33679e" stroke="#1f3d63" stroke-width="0.8"/><circle cx="503.4" cy="857.45" r="7.9" fill="#33679e" stroke="#1f3d63" stroke-width="0.8"/><circle cx="506" cy="866.57" r="7.9" fill="#33679e" stroke="#1f3d63" stroke-width="0.8"/><circle cx="517" cy="875.68" r="7.9" fill="#33679e" stroke="#1f3d63" stroke-width="0.8"/><circle cx="536.8" cy="884.8" r="7.9" fill="#33679e" stroke="#1f3d63" stroke-width="0.8"/><circle cx="552.9" cy="893.92" r="7.9" fill="#33679e" stroke="#1f3d63" stroke-width="0.8"/><circle cx="563.9" cy="903.03" r="7.9" fill="#33679e" stroke="#1f3d63" stroke-width="0.8"/><circle cx="567.6" cy="912.15" r="7.9" fill="#33679e" stroke="#1f3d63" stroke-width="0.8"/><circle cx="567" cy="921.26" r="7.9" fill="#33679e" stroke="#1f3d63" stroke-width="0.8"/><circle cx="560.6" cy="930.38" r="7.9" fill="#33679e" stroke="#1f3d63" stroke-width="0.8"/><circle cx="553.8" cy="939.5" r="7.9" fill="#33679e" stroke="#1f3d63" stroke-width="0.8"/><circle cx="541.8" cy="948.61" r="7.9" fill="#33679e" stroke="#1f3d63" stroke-width="0.8"/><circle cx="528.6" cy="957.73" r="7.9" fill="#33679e" stroke="#1f3d63" stroke-width="0.8"/><circle cx="511.7" cy="966.84" r="7.9" fill="#33679e" stroke="#1f3d63" stroke-width="0.8"/><circle cx="495" cy="975.96" r="7.9" fill="#33679e" stroke="#1f3d63" stroke-width="0.8"/><circle cx="477" cy="985.08" r="7.9" fill="#33679e" stroke="#1f3d63" stroke-width="0.8"/><circle cx="459" cy="994.19" r="7.9" fill="#33679e" stroke="#1f3d63" stroke-width="0.8"/><circle cx="441" cy="1003.31" r="7.9" fill="#33679e" stroke="#1f3d63" stroke-width="0.8"/><circle cx="423" cy="1012.42" r="7.9" fill="#33679e" stroke="#1f3d63" stroke-width="0.8"/><circle cx="405" cy="1021.54" r="7.9" fill="#33679e" stroke="#1f3d63" stroke-width="0.8"/><circle cx="386.7" cy="1030.66" r="7.9" fill="#33679e" stroke="#1f3d63" stroke-width="0.8"/><circle cx="370.6" cy="1039.77" r="7.9" fill="#33679e" stroke="#1f3d63" stroke-width="0.8"/><circle cx="355.5" cy="1048.89" r="7.9" fill="#33679e" stroke="#1f3d63" stroke-width="0.8"/><circle cx="340.5" cy="1058" r="7.9" fill="#33679e" stroke="#1f3d63" stroke-width="0.8"/><circle cx="325.6" cy="1067.12" r="7.9" fill="#33679e" stroke="#1f3d63" stroke-width="0.8"/><circle cx="311.6" cy="1076.24" r="7.9" fill="#33679e" stroke="#1f3d63" stroke-width="0.8"/><circle cx="298.3" cy="1085.35" r="7.9" fill="#33679e" stroke="#1f3d63" stroke-width="0.8"/><circle cx="287.7" cy="1094.47" r="7.9" fill="#33679e" stroke="#1f3d63" stroke-width="0.8"/><circle cx="276" cy="1103.58" r="7.9" fill="#33679e" stroke="#1f3d63" stroke-width="0.8"/><circle cx="265.7" cy="1112.7" r="7.9" fill="#33679e" stroke="#1f3d63" stroke-width="0.8"/><circle cx="255.4" cy="1121.82" r="7.9" fill="#33679e" stroke="#1f3d63" stroke-width="0.8"/><circle cx="246.6" cy="1130.93" r="7.9" fill="#33679e" stroke="#1f3d63" stroke-width="0.8"/><circle cx="238.5" cy="1140.05" r="7.9" fill="#33679e" stroke="#1f3d63" stroke-width="0.8"/><circle cx="230.9" cy="1149.16" r="7.9" fill="#33679e" stroke="#1f3d63" stroke-width="0.8"/><circle cx="223.9" cy="1158.28" r="7.9" fill="#33679e" stroke="#1f3d63" stroke-width="0.8"/><circle cx="217.7" cy="1167.4" r="7.9" fill="#33679e" stroke="#1f3d63" stroke-width="0.8"/><circle cx="212.4" cy="1176.51" r="7.9" fill="#33679e" stroke="#1f3d63" stroke-width="0.8"/><circle cx="206.7" cy="1185.63" r="7.9" fill="#33679e" stroke="#1f3d63" stroke-width="0.8"/><circle cx="202.6" cy="1194.74" r="7.9" fill="#33679e" stroke="#1f3d63" stroke-width="0.8"/><circle cx="200.1" cy="1203.86" r="7.9" fill="#33679e" stroke="#1f3d63" stroke-width="0.8"/><circle cx="197.9" cy="1212.98" r="7.9" fill="#33679e" stroke="#1f3d63" stroke-width="0.8"/><circle cx="195.7" cy="1222.09" r="7.9" fill="#33679e" stroke="#1f3d63" stroke-width="0.8"/><circle cx="195" cy="1231.21" r="7.9" fill="#33679e" stroke="#1f3d63" stroke-width="0.8"/><circle cx="193.9" cy="1240.32" r="7.9" fill="#33679e" stroke="#1f3d63" stroke-width="0.8"/><circle cx="193.2" cy="1249.44" r="7.9" fill="#33679e" stroke="#1f3d63" stroke-width="0.8"/><circle cx="192.4" cy="1258.56" r="7.9" fill="#33679e" stroke="#1f3d63" stroke-width="0.8"/><circle cx="192" cy="1267.67" r="7.9" fill="#33679e" stroke="#1f3d63" stroke-width="0.8"/><circle cx="191.7" cy="1276.79" r="7.9" fill="#33679e" stroke="#1f3d63" stroke-width="0.8"/><circle cx="506" cy="793.64" r="8.1" fill="#fff" stroke="#6e6e6e" stroke-width="1.25"/><circle cx="504.5" cy="802.76" r="8.1" fill="#fff" stroke="#6e6e6e" stroke-width="1.25"/><circle cx="504" cy="811.87" r="8.1" fill="#fff" stroke="#6e6e6e" stroke-width="1.25"/><circle cx="506" cy="820.99" r="8.1" fill="#fff" stroke="#6e6e6e" stroke-width="1.25"/><circle cx="506.4" cy="830.1" r="8.1" fill="#fff" stroke="#6e6e6e" stroke-width="1.25"/><circle cx="506.7" cy="839.22" r="8.1" fill="#fff" stroke="#6e6e6e" stroke-width="1.25"/><circle cx="508.9" cy="848.34" r="8.1" fill="#fff" stroke="#6e6e6e" stroke-width="1.25"/><circle cx="512.6" cy="857.45" r="8.1" fill="#fff" stroke="#6e6e6e" stroke-width="1.25"/><circle cx="522.8" cy="866.57" r="8.1" fill="#fff" stroke="#6e6e6e" stroke-width="1.25"/><circle cx="541.9" cy="875.68" r="8.1" fill="#fff" stroke="#6e6e6e" stroke-width="1.25"/><circle cx="563.2" cy="884.8" r="8.1" fill="#fff" stroke="#6e6e6e" stroke-width="1.25"/><circle cx="577.9" cy="893.92" r="8.1" fill="#fff" stroke="#6e6e6e" stroke-width="1.25"/><circle cx="585.9" cy="903.03" r="8.1" fill="#fff" stroke="#6e6e6e" stroke-width="1.25"/><circle cx="587.4" cy="912.15" r="8.1" fill="#fff" stroke="#6e6e6e" stroke-width="1.25"/><circle cx="583.4" cy="921.26" r="8.1" fill="#fff" stroke="#6e6e6e" stroke-width="1.25"/><circle cx="574.6" cy="930.38" r="8.1" fill="#fff" stroke="#6e6e6e" stroke-width="1.25"/><circle cx="562.9" cy="939.5" r="8.1" fill="#fff" stroke="#6e6e6e" stroke-width="1.25"/><circle cx="547.8" cy="948.61" r="8.1" fill="#fff" stroke="#6e6e6e" stroke-width="1.25"/><circle cx="531" cy="957.73" r="8.1" fill="#fff" stroke="#6e6e6e" stroke-width="1.25"/><circle cx="513.4" cy="966.84" r="8.1" fill="#fff" stroke="#6e6e6e" stroke-width="1.25"/><circle cx="495.7" cy="975.96" r="8.1" fill="#fff" stroke="#6e6e6e" stroke-width="1.25"/><circle cx="476.4" cy="985.08" r="8.1" fill="#fff" stroke="#6e6e6e" stroke-width="1.25"/><circle cx="457.7" cy="994.19" r="8.1" fill="#fff" stroke="#6e6e6e" stroke-width="1.25"/><circle cx="439" cy="1003.31" r="8.1" fill="#fff" stroke="#6e6e6e" stroke-width="1.25"/><circle cx="421.7" cy="1012.42" r="8.1" fill="#fff" stroke="#6e6e6e" stroke-width="1.25"/><circle cx="403.7" cy="1021.54" r="8.1" fill="#fff" stroke="#6e6e6e" stroke-width="1.25"/><circle cx="386.1" cy="1030.66" r="8.1" fill="#fff" stroke="#6e6e6e" stroke-width="1.25"/><circle cx="370" cy="1039.77" r="8.1" fill="#fff" stroke="#6e6e6e" stroke-width="1.25"/><circle cx="354.9" cy="1048.89" r="8.1" fill="#fff" stroke="#6e6e6e" stroke-width="1.25"/><circle cx="339.9" cy="1058" r="8.1" fill="#fff" stroke="#6e6e6e" stroke-width="1.25"/><circle cx="325" cy="1067.12" r="8.1" fill="#fff" stroke="#6e6e6e" stroke-width="1.25"/><circle cx="311" cy="1076.24" r="8.1" fill="#fff" stroke="#6e6e6e" stroke-width="1.25"/><circle cx="297.7" cy="1085.35" r="8.1" fill="#fff" stroke="#6e6e6e" stroke-width="1.25"/><circle cx="285.2" cy="1094.47" r="8.1" fill="#fff" stroke="#6e6e6e" stroke-width="1.25"/><circle cx="273.5" cy="1103.58" r="8.1" fill="#fff" stroke="#6e6e6e" stroke-width="1.25"/><circle cx="263.2" cy="1112.7" r="8.1" fill="#fff" stroke="#6e6e6e" stroke-width="1.25"/><circle cx="252.9" cy="1121.82" r="8.1" fill="#fff" stroke="#6e6e6e" stroke-width="1.25"/><circle cx="244.1" cy="1130.93" r="8.1" fill="#fff" stroke="#6e6e6e" stroke-width="1.25"/><circle cx="236" cy="1140.05" r="8.1" fill="#fff" stroke="#6e6e6e" stroke-width="1.25"/><circle cx="228.4" cy="1149.16" r="8.1" fill="#fff" stroke="#6e6e6e" stroke-width="1.25"/><circle cx="221.4" cy="1158.28" r="8.1" fill="#fff" stroke="#6e6e6e" stroke-width="1.25"/><circle cx="215.2" cy="1167.4" r="8.1" fill="#fff" stroke="#6e6e6e" stroke-width="1.25"/><circle cx="209.9" cy="1176.51" r="8.1" fill="#fff" stroke="#6e6e6e" stroke-width="1.25"/><circle cx="205.2" cy="1185.63" r="8.1" fill="#fff" stroke="#6e6e6e" stroke-width="1.25"/><circle cx="201.1" cy="1194.74" r="8.1" fill="#fff" stroke="#6e6e6e" stroke-width="1.25"/><circle cx="198.6" cy="1203.86" r="8.1" fill="#fff" stroke="#6e6e6e" stroke-width="1.25"/><circle cx="196.4" cy="1212.98" r="8.1" fill="#fff" stroke="#6e6e6e" stroke-width="1.25"/><circle cx="194.2" cy="1222.09" r="8.1" fill="#fff" stroke="#6e6e6e" stroke-width="1.25"/><circle cx="193.5" cy="1231.21" r="8.1" fill="#fff" stroke="#6e6e6e" stroke-width="1.25"/><circle cx="192.4" cy="1240.32" r="8.1" fill="#fff" stroke="#6e6e6e" stroke-width="1.25"/><circle cx="191.9" cy="1249.44" r="8.1" fill="#fff" stroke="#6e6e6e" stroke-width="1.25"/><circle cx="191.1" cy="1258.56" r="8.1" fill="#fff" stroke="#6e6e6e" stroke-width="1.25"/><circle cx="190.9" cy="1267.67" r="8.1" fill="#fff" stroke="#6e6e6e" stroke-width="1.25"/><circle cx="190.7" cy="1276.79" r="8.1" fill="#fff" stroke="#6e6e6e" stroke-width="1.25"/><circle cx="190.7" cy="1285.9" r="8.1" fill="#fff" stroke="#6e6e6e" stroke-width="1.25"/><circle cx="190.7" cy="1295.02" r="8.1" fill="#fff" stroke="#6e6e6e" stroke-width="1.25"/><circle cx="190.7" cy="1304.14" r="8.1" fill="#fff" stroke="#6e6e6e" stroke-width="1.25"/><circle cx="190.7" cy="1313.25" r="8.1" fill="#fff" stroke="#6e6e6e" stroke-width="1.25"/><circle cx="190.7" cy="1322.37" r="8.1" fill="#fff" stroke="#6e6e6e" stroke-width="1.25"/><circle cx="190.7" cy="1331.48" r="8.1" fill="#fff" stroke="#6e6e6e" stroke-width="1.25"/><circle cx="190.7" cy="1340.6" r="8.1" fill="#fff" stroke="#6e6e6e" stroke-width="1.25"/>
<line x1="145.4" y1="1260.7" x2="432" y2="1260.7" stroke="#4a76b0" stroke-width="2" stroke-dasharray="30.8 32.8"/>
<line x1="437" y1="1269.2" x2="726" y2="1269.2" stroke="#222" stroke-width="2" stroke-dasharray="10.6 10.6"/>
<path d="M857.6 747V1386.6H1493" stroke="#1a1a1a" stroke-width="2" fill="none"/>
<path d="M841.6 793.24H857.6M841.6 884.4H857.6M841.6 975.56H857.6M841.6 1066.72H857.6M841.6 1157.88H857.6M841.6 1249.04H857.6M841.6 1340.2H857.6M920.5 1386.6V1402.6M1047.9 1386.6V1402.6M1175.3 1386.6V1402.6M1302.7 1386.6V1402.6M1430.1 1386.6V1402.6" stroke="#1a1a1a" stroke-width="2" fill="none"/>
<text x="920.5" y="1452.2" text-anchor="middle" font-size="36" font-family="Liberation Sans, sans-serif" fill="#1c1c1c" stroke="#fff" stroke-width="0.6">0</text>
<text x="1047.9" y="1452.2" text-anchor="middle" font-size="36" font-family="Liberation Sans, sans-serif" fill="#1c1c1c" stroke="#fff" stroke-width="0.6">100</text>
<text x="1175.3" y="1452.2" text-anchor="middle" font-size="36" font-family="Liberation Sans, sans-serif" fill="#1c1c1c" stroke="#fff" stroke-width="0.6">200</text>
<text x="1302.7" y="1452.2" text-anchor="middle" font-size="36" font-family="Liberation Sans, sans-serif" fill="#1c1c1c" stroke="#fff" stroke-width="0.6">300</text>
<text x="1430.1" y="1452.2" text-anchor="middle" font-size="36" font-family="Liberation Sans, sans-serif" fill="#1c1c1c" stroke="#fff" stroke-width="0.6">400</text>
<path d="M1181.36 875.28H1212.5M1157.64 893.52H1189.5M1144.64 902.63H1177.4M1129.82 911.75H1165.1M1116.1 920.86H1152.1M1102.84 929.98H1140.1M1088.5 939.1H1128.1M1074.16 948.21H1116.1M1060.9 957.33H1104.1M1048.2 966.44H1091.4M1035.64 975.56H1080.1M1024.42 984.68H1068.7M1012.94 993.79H1057.4M1002.72 1002.91H1046.1M994.54 1012.02H1035.4M986.04 1021.14H1025.1M977.44 1030.26H1014.7M970.48 1039.37H1005.4M962.6 1048.49H996.8M956.4 1057.6H988.8M950.6 1066.72H981.2M946.9 1075.84H973.9M941.2 1084.95H967.3M937.62 1094.07H961.2M933.82 1103.18H955.6M930.74 1112.3H950" stroke="#7c7c7c" stroke-width="1.3" fill="none"/>
<line x1="880" y1="884.6" x2="1478.8" y2="884.6" stroke="#3a3a3a" stroke-width="2.4"/>
<circle cx="1230" cy="793.24" r="7.9" fill="#33679e" stroke="#1f3d63" stroke-width="0.8"/><circle cx="1230" cy="802.36" r="7.9" fill="#33679e" stroke="#1f3d63" stroke-width="0.8"/><circle cx="1229.5" cy="811.47" r="7.9" fill="#33679e" stroke="#1f3d63" stroke-width="0.8"/><circle cx="1229" cy="820.59" r="7.9" fill="#33679e" stroke="#1f3d63" stroke-width="0.8"/><circle cx="1228.5" cy="829.7" r="7.9" fill="#33679e" stroke="#1f3d63" stroke-width="0.8"/><circle cx="1227.5" cy="838.82" r="7.9" fill="#33679e" stroke="#1f3d63" stroke-width="0.8"/><circle cx="1225" cy="847.94" r="7.9" fill="#33679e" stroke="#1f3d63" stroke-width="0.8"/><circle cx="1218" cy="857.05" r="7.9" fill="#33679e" stroke="#1f3d63" stroke-width="0.8"/><circle cx="1207.5" cy="866.17" r="7.9" fill="#33679e" stroke="#1f3d63" stroke-width="0.8"/><circle cx="1196" cy="875.28" r="7.9" fill="#33679e" stroke="#1f3d63" stroke-width="0.8"/><circle cx="1183.5" cy="884.4" r="7.9" fill="#33679e" stroke="#1f3d63" stroke-width="0.8"/><circle cx="1170.5" cy="893.52" r="7.9" fill="#33679e" stroke="#1f3d63" stroke-width="0.8"/><circle cx="1157.7" cy="902.63" r="7.9" fill="#33679e" stroke="#1f3d63" stroke-width="0.8"/><circle cx="1143.8" cy="911.75" r="7.9" fill="#33679e" stroke="#1f3d63" stroke-width="0.8"/><circle cx="1130.2" cy="920.86" r="7.9" fill="#33679e" stroke="#1f3d63" stroke-width="0.8"/><circle cx="1117.3" cy="929.98" r="7.9" fill="#33679e" stroke="#1f3d63" stroke-width="0.8"/><circle cx="1103.8" cy="939.1" r="7.9" fill="#33679e" stroke="#1f3d63" stroke-width="0.8"/><circle cx="1090.4" cy="948.21" r="7.9" fill="#33679e" stroke="#1f3d63" stroke-width="0.8"/><circle cx="1077.7" cy="957.33" r="7.9" fill="#33679e" stroke="#1f3d63" stroke-width="0.8"/><circle cx="1065" cy="966.44" r="7.9" fill="#33679e" stroke="#1f3d63" stroke-width="0.8"/><circle cx="1053" cy="975.56" r="7.9" fill="#33679e" stroke="#1f3d63" stroke-width="0.8"/><circle cx="1041.7" cy="984.68" r="7.9" fill="#33679e" stroke="#1f3d63" stroke-width="0.8"/><circle cx="1030.3" cy="993.79" r="7.9" fill="#33679e" stroke="#1f3d63" stroke-width="0.8"/><circle cx="1019.6" cy="1002.91" r="7.9" fill="#33679e" stroke="#1f3d63" stroke-width="0.8"/><circle cx="1010.2" cy="1012.02" r="7.9" fill="#33679e" stroke="#1f3d63" stroke-width="0.8"/><circle cx="1000.9" cy="1021.14" r="7.9" fill="#33679e" stroke="#1f3d63" stroke-width="0.8"/><circle cx="991.5" cy="1030.26" r="7.9" fill="#33679e" stroke="#1f3d63" stroke-width="0.8"/><circle cx="983.5" cy="1039.37" r="7.9" fill="#33679e" stroke="#1f3d63" stroke-width="0.8"/><circle cx="975.3" cy="1048.49" r="7.9" fill="#33679e" stroke="#1f3d63" stroke-width="0.8"/><circle cx="968.3" cy="1057.6" r="7.9" fill="#33679e" stroke="#1f3d63" stroke-width="0.8"/><circle cx="961" cy="1066.72" r="7.9" fill="#33679e" stroke="#1f3d63" stroke-width="0.8"/><circle cx="956" cy="1075.84" r="7.9" fill="#33679e" stroke="#1f3d63" stroke-width="0.8"/><circle cx="950.2" cy="1084.95" r="7.9" fill="#33679e" stroke="#1f3d63" stroke-width="0.8"/><circle cx="945.6" cy="1094.07" r="7.9" fill="#33679e" stroke="#1f3d63" stroke-width="0.8"/><circle cx="941.2" cy="1103.18" r="7.9" fill="#33679e" stroke="#1f3d63" stroke-width="0.8"/><circle cx="937" cy="1112.3" r="7.9" fill="#33679e" stroke="#1f3d63" stroke-width="0.8"/><circle cx="933.5" cy="1121.42" r="7.9" fill="#33679e" stroke="#1f3d63" stroke-width="0.8"/><circle cx="930.9" cy="1130.53" r="7.9" fill="#33679e" stroke="#1f3d63" stroke-width="0.8"/><circle cx="928.3" cy="1139.65" r="7.9" fill="#33679e" stroke="#1f3d63" stroke-width="0.8"/><circle cx="926.3" cy="1148.76" r="7.9" fill="#33679e" stroke="#1f3d63" stroke-width="0.8"/><circle cx="925" cy="1157.88" r="7.9" fill="#33679e" stroke="#1f3d63" stroke-width="0.8"/><circle cx="924" cy="1167" r="7.9" fill="#33679e" stroke="#1f3d63" stroke-width="0.8"/><circle cx="923" cy="1176.11" r="7.9" fill="#33679e" stroke="#1f3d63" stroke-width="0.8"/><circle cx="922.2" cy="1185.23" r="7.9" fill="#33679e" stroke="#1f3d63" stroke-width="0.8"/><circle cx="921.8" cy="1194.34" r="7.9" fill="#33679e" stroke="#1f3d63" stroke-width="0.8"/><circle cx="921.4" cy="1203.46" r="7.9" fill="#33679e" stroke="#1f3d63" stroke-width="0.8"/><circle cx="921.1" cy="1212.58" r="7.9" fill="#33679e" stroke="#1f3d63" stroke-width="0.8"/><circle cx="920.9" cy="1221.69" r="7.9" fill="#33679e" stroke="#1f3d63" stroke-width="0.8"/><circle cx="920.9" cy="1230.81" r="7.9" fill="#33679e" stroke="#1f3d63" stroke-width="0.8"/><circle cx="920.9" cy="1239.92" r="7.9" fill="#33679e" stroke="#1f3d63" stroke-width="0.8"/><circle cx="920.9" cy="1249.04" r="7.9" fill="#33679e" stroke="#1f3d63" stroke-width="0.8"/><circle cx="1229.4" cy="793.24" r="8.1" fill="#fff" stroke="#6e6e6e" stroke-width="1.25"/><circle cx="1229" cy="802.36" r="8.1" fill="#fff" stroke="#6e6e6e" stroke-width="1.25"/><circle cx="1228.3" cy="811.47" r="8.1" fill="#fff" stroke="#6e6e6e" stroke-width="1.25"/><circle cx="1227.6" cy="820.59" r="8.1" fill="#fff" stroke="#6e6e6e" stroke-width="1.25"/><circle cx="1225.8" cy="829.7" r="8.1" fill="#fff" stroke="#6e6e6e" stroke-width="1.25"/><circle cx="1224.1" cy="838.82" r="8.1" fill="#fff" stroke="#6e6e6e" stroke-width="1.25"/><circle cx="1220" cy="847.94" r="8.1" fill="#fff" stroke="#6e6e6e" stroke-width="1.25"/><circle cx="1213.3" cy="857.05" r="8.1" fill="#fff" stroke="#6e6e6e" stroke-width="1.25"/><circle cx="1204.4" cy="866.17" r="8.1" fill="#fff" stroke="#6e6e6e" stroke-width="1.25"/><circle cx="1195.2" cy="875.28" r="8.1" fill="#fff" stroke="#6e6e6e" stroke-width="1.25"/><circle cx="1184.3" cy="884.4" r="8.1" fill="#fff" stroke="#6e6e6e" stroke-width="1.25"/><circle cx="1171.8" cy="893.52" r="8.1" fill="#fff" stroke="#6e6e6e" stroke-width="1.25"/><circle cx="1159.2" cy="902.63" r="8.1" fill="#fff" stroke="#6e6e6e" stroke-width="1.25"/><circle cx="1145.5" cy="911.75" r="8.1" fill="#fff" stroke="#6e6e6e" stroke-width="1.25"/><circle cx="1132.1" cy="920.86" r="8.1" fill="#fff" stroke="#6e6e6e" stroke-width="1.25"/><circle cx="1119.4" cy="929.98" r="8.1" fill="#fff" stroke="#6e6e6e" stroke-width="1.25"/><circle cx="1106.1" cy="939.1" r="8.1" fill="#fff" stroke="#6e6e6e" stroke-width="1.25"/><circle cx="1092.8" cy="948.21" r="8.1" fill="#fff" stroke="#6e6e6e" stroke-width="1.25"/><circle cx="1080.1" cy="957.33" r="8.1" fill="#fff" stroke="#6e6e6e" stroke-width="1.25"/><circle cx="1067.4" cy="966.44" r="8.1" fill="#fff" stroke="#6e6e6e" stroke-width="1.25"/><circle cx="1055.4" cy="975.56" r="8.1" fill="#fff" stroke="#6e6e6e" stroke-width="1.25"/><circle cx="1044.1" cy="984.68" r="8.1" fill="#fff" stroke="#6e6e6e" stroke-width="1.25"/><circle cx="1032.7" cy="993.79" r="8.1" fill="#fff" stroke="#6e6e6e" stroke-width="1.25"/><circle cx="1022" cy="1002.91" r="8.1" fill="#fff" stroke="#6e6e6e" stroke-width="1.25"/><circle cx="1012.7" cy="1012.02" r="8.1" fill="#fff" stroke="#6e6e6e" stroke-width="1.25"/><circle cx="1003.4" cy="1021.14" r="8.1" fill="#fff" stroke="#6e6e6e" stroke-width="1.25"/><circle cx="994" cy="1030.26" r="8.1" fill="#fff" stroke="#6e6e6e" stroke-width="1.25"/><circle cx="986" cy="1039.37" r="8.1" fill="#fff" stroke="#6e6e6e" stroke-width="1.25"/><circle cx="977.8" cy="1048.49" r="8.1" fill="#fff" stroke="#6e6e6e" stroke-width="1.25"/><circle cx="970.8" cy="1057.6" r="8.1" fill="#fff" stroke="#6e6e6e" stroke-width="1.25"/><circle cx="964.2" cy="1066.72" r="8.1" fill="#fff" stroke="#6e6e6e" stroke-width="1.25"/><circle cx="958.9" cy="1075.84" r="8.1" fill="#fff" stroke="#6e6e6e" stroke-width="1.25"/><circle cx="952.8" cy="1084.95" r="8.1" fill="#fff" stroke="#6e6e6e" stroke-width="1.25"/><circle cx="948.1" cy="1094.07" r="8.1" fill="#fff" stroke="#6e6e6e" stroke-width="1.25"/><circle cx="943.5" cy="1103.18" r="8.1" fill="#fff" stroke="#6e6e6e" stroke-width="1.25"/><circle cx="939.3" cy="1112.3" r="8.1" fill="#fff" stroke="#6e6e6e" stroke-width="1.25"/><circle cx="935.5" cy="1121.42" r="8.1" fill="#fff" stroke="#6e6e6e" stroke-width="1.25"/><circle cx="932.7" cy="1130.53" r="8.1" fill="#fff" stroke="#6e6e6e" stroke-width="1.25"/><circle cx="929.9" cy="1139.65" r="8.1" fill="#fff" stroke="#6e6e6e" stroke-width="1.25"/><circle cx="927.6" cy="1148.76" r="8.1" fill="#fff" stroke="#6e6e6e" stroke-width="1.25"/><circle cx="925.7" cy="1157.88" r="8.1" fill="#fff" stroke="#6e6e6e" stroke-width="1.25"/><circle cx="924.5" cy="1167" r="8.1" fill="#fff" stroke="#6e6e6e" stroke-width="1.25"/><circle cx="923.4" cy="1176.11" r="8.1" fill="#fff" stroke="#6e6e6e" stroke-width="1.25"/><circle cx="922.4" cy="1185.23" r="8.1" fill="#fff" stroke="#6e6e6e" stroke-width="1.25"/><circle cx="922" cy="1194.34" r="8.1" fill="#fff" stroke="#6e6e6e" stroke-width="1.25"/><circle cx="921.6" cy="1203.46" r="8.1" fill="#fff" stroke="#6e6e6e" stroke-width="1.25"/><circle cx="921.3" cy="1212.58" r="8.1" fill="#fff" stroke="#6e6e6e" stroke-width="1.25"/><circle cx="921" cy="1221.69" r="8.1" fill="#fff" stroke="#6e6e6e" stroke-width="1.25"/><circle cx="921" cy="1230.81" r="8.1" fill="#fff" stroke="#6e6e6e" stroke-width="1.25"/><circle cx="921" cy="1239.92" r="8.1" fill="#fff" stroke="#6e6e6e" stroke-width="1.25"/><circle cx="921" cy="1249.04" r="8.1" fill="#fff" stroke="#6e6e6e" stroke-width="1.25"/><circle cx="921" cy="1258.16" r="8.1" fill="#fff" stroke="#6e6e6e" stroke-width="1.25"/><circle cx="921" cy="1267.27" r="8.1" fill="#fff" stroke="#6e6e6e" stroke-width="1.25"/><circle cx="921" cy="1276.39" r="8.1" fill="#fff" stroke="#6e6e6e" stroke-width="1.25"/><circle cx="921" cy="1285.5" r="8.1" fill="#fff" stroke="#6e6e6e" stroke-width="1.25"/><circle cx="921" cy="1294.62" r="8.1" fill="#fff" stroke="#6e6e6e" stroke-width="1.25"/>
<line x1="871.3" y1="1205.5" x2="1160" y2="1205.5" stroke="#2a2a2a" stroke-width="2" stroke-dasharray="31 32.7"/>
<line x1="1166" y1="1217.5" x2="1456" y2="1217.5" stroke="#222" stroke-width="2" stroke-dasharray="10.6 10.67"/>
<text transform="translate(150 43.5) scale(0.8 1)" font-size="50" font-family="Liberation Sans, sans-serif" fill="#1c1c1c" stroke="#fff" stroke-width="0.6">a</text>
<text transform="translate(883 44) scale(1 1.05)" font-size="50" font-family="Liberation Sans, sans-serif" fill="#1c1c1c" stroke="#fff" stroke-width="0.6">b</text>
<text transform="translate(151 765.4) scale(1 1)" font-size="50" font-family="Liberation Sans, sans-serif" fill="#1c1c1c" stroke="#fff" stroke-width="0.6">c</text>
<text transform="translate(882.5 763) scale(1 1.03)" font-size="50" font-family="Liberation Sans, sans-serif" fill="#1c1c1c" stroke="#fff" stroke-width="0.6">d</text>
<g stroke="#2f5597" stroke-width="3.2" stroke-linejoin="round" fill="#fdd766">
<circle cx="240.9" cy="70.8" r="19.6"/>
<path transform="rotate(0 240.9 70.8)" d="M240.9 31.2L235.3 44.6L246.5 44.6Z"/>
<path transform="rotate(45 240.9 70.8)" d="M240.9 31.2L235.3 44.6L246.5 44.6Z"/>
<path transform="rotate(90 240.9 70.8)" d="M240.9 31.2L235.3 44.6L246.5 44.6Z"/>
<path transform="rotate(135 240.9 70.8)" d="M240.9 31.2L235.3 44.6L246.5 44.6Z"/>
<path transform="rotate(180 240.9 70.8)" d="M240.9 31.2L235.3 44.6L246.5 44.6Z"/>
<path transform="rotate(225 240.9 70.8)" d="M240.9 31.2L235.3 44.6L246.5 44.6Z"/>
<path transform="rotate(270 240.9 70.8)" d="M240.9 31.2L235.3 44.6L246.5 44.6Z"/>
<path transform="rotate(315 240.9 70.8)" d="M240.9 31.2L235.3 44.6L246.5 44.6Z"/>
</g>
<g stroke="#2f5597" stroke-width="3.2" stroke-linejoin="round" fill="#fdd766">
<circle cx="240.9" cy="790.4" r="19.6"/>
<path transform="rotate(0 240.9 790.4)" d="M240.9 750.8L235.3 764.2L246.5 764.2Z"/>
<path transform="rotate(45 240.9 790.4)" d="M240.9 750.8L235.3 764.2L246.5 764.2Z"/>
<path transform="rotate(90 240.9 790.4)" d="M240.9 750.8L235.3 764.2L246.5 764.2Z"/>
<path transform="rotate(135 240.9 790.4)" d="M240.9 750.8L235.3 764.2L246.5 764.2Z"/>
<path transform="rotate(180 240.9 790.4)" d="M240.9 750.8L235.3 764.2L246.5 764.2Z"/>
<path transform="rotate(225 240.9 790.4)" d="M240.9 750.8L235.3 764.2L246.5 764.2Z"/>
<path transform="rotate(270 240.9 790.4)" d="M240.9 750.8L235.3 764.2L246.5 764.2Z"/>
<path transform="rotate(315 240.9 790.4)" d="M240.9 750.8L235.3 764.2L246.5 764.2Z"/>
</g>
<path d="M980.2 42.4A28.02 28.02 0 1 0 980.2 98.4A34.3 34.3 0 0 1 980.2 42.4Z" fill="#4472c4" stroke="#2f5597" stroke-width="2.8" stroke-linejoin="round"/>
<path d="M980.2 763.6A28.02 28.02 0 1 0 980.2 819.6A34.3 34.3 0 0 1 980.2 763.6Z" fill="#4472c4" stroke="#2f5597" stroke-width="2.8" stroke-linejoin="round"/>
<text x="306" y="85.8" font-size="42" font-family="Liberation Sans, sans-serif" fill="#1c1c1c" stroke="#fff" stroke-width="0.6">pH 8.0</text>
<text x="1013" y="85.9" font-size="42" font-family="Liberation Sans, sans-serif" fill="#1c1c1c" stroke="#fff" stroke-width="0.6">pH 8.0</text>
<text x="306" y="809" font-size="42" font-family="Liberation Sans, sans-serif" fill="#1c1c1c" stroke="#fff" stroke-width="0.6">pH 7.6</text>
<text x="1013" y="809" font-size="42" font-family="Liberation Sans, sans-serif" fill="#1c1c1c" stroke="#fff" stroke-width="0.6">pH 7.6</text>
<text transform="translate(38.6 347.3) rotate(-90)" text-anchor="middle" font-size="37.8" font-family="Liberation Sans, sans-serif" fill="#1c1c1c" stroke="#fff" stroke-width="0.6">Depth (mm)</text>
<text transform="translate(38.6 1066.8) rotate(-90)" text-anchor="middle" font-size="37.8" font-family="Liberation Sans, sans-serif" fill="#1c1c1c" stroke="#fff" stroke-width="0.6">Depth (mm)</text>
<text transform="translate(445 1504.7) scale(0.99 1)" text-anchor="middle" font-size="39" font-family="Liberation Sans, sans-serif" fill="#1c1c1c" stroke="#fff" stroke-width="0.6">[O<tspan font-size="20" dy="10.3" stroke="none">2</tspan><tspan dy="-10.3">] (µmol L</tspan><tspan font-size="17" dy="-12.2" stroke="none">-1</tspan><tspan dy="12.2">)</tspan></text>
<text transform="translate(1175.2 1504.7) scale(0.99 1)" text-anchor="middle" font-size="39" font-family="Liberation Sans, sans-serif" fill="#1c1c1c" stroke="#fff" stroke-width="0.6">[O<tspan font-size="20" dy="10.3" stroke="none">2</tspan><tspan dy="-10.3">] (µmol L</tspan><tspan font-size="17" dy="-12.2" stroke="none">-1</tspan><tspan dy="12.2">)</tspan></text>
<rect x="122.5" y="1557.5" width="608.5" height="147" fill="none" stroke="#111" stroke-width="1.6"/>
<circle cx="188.4" cy="1609" r="12" fill="#35669b"/>
<circle cx="189.4" cy="1658" r="12.2" fill="#fff" stroke="#111" stroke-width="1.6"/>
<text x="226" y="1620.6" font-size="31" font-family="Liberation Sans, sans-serif" fill="#1c1c1c" stroke="#fff" stroke-width="0.6">Control, sand layer</text>
<text x="225.5" y="1669" font-size="31" font-family="Liberation Sans, sans-serif" fill="#1c1c1c" stroke="#fff" stroke-width="0.6">+Calcite, calcite layer</text>
<line x1="546.8" y1="1607.8" x2="671" y2="1607.8" stroke="#111" stroke-width="2.4" stroke-dasharray="20.8 7.2"/>
<line x1="546.8" y1="1656.3" x2="650" y2="1656.3" stroke="#111" stroke-width="2.4" stroke-dasharray="6 12.2"/>
<line x1="655.2" y1="1656.3" x2="665.6" y2="1656.3" stroke="#111" stroke-width="2.4"/>
</svg></body></html>
